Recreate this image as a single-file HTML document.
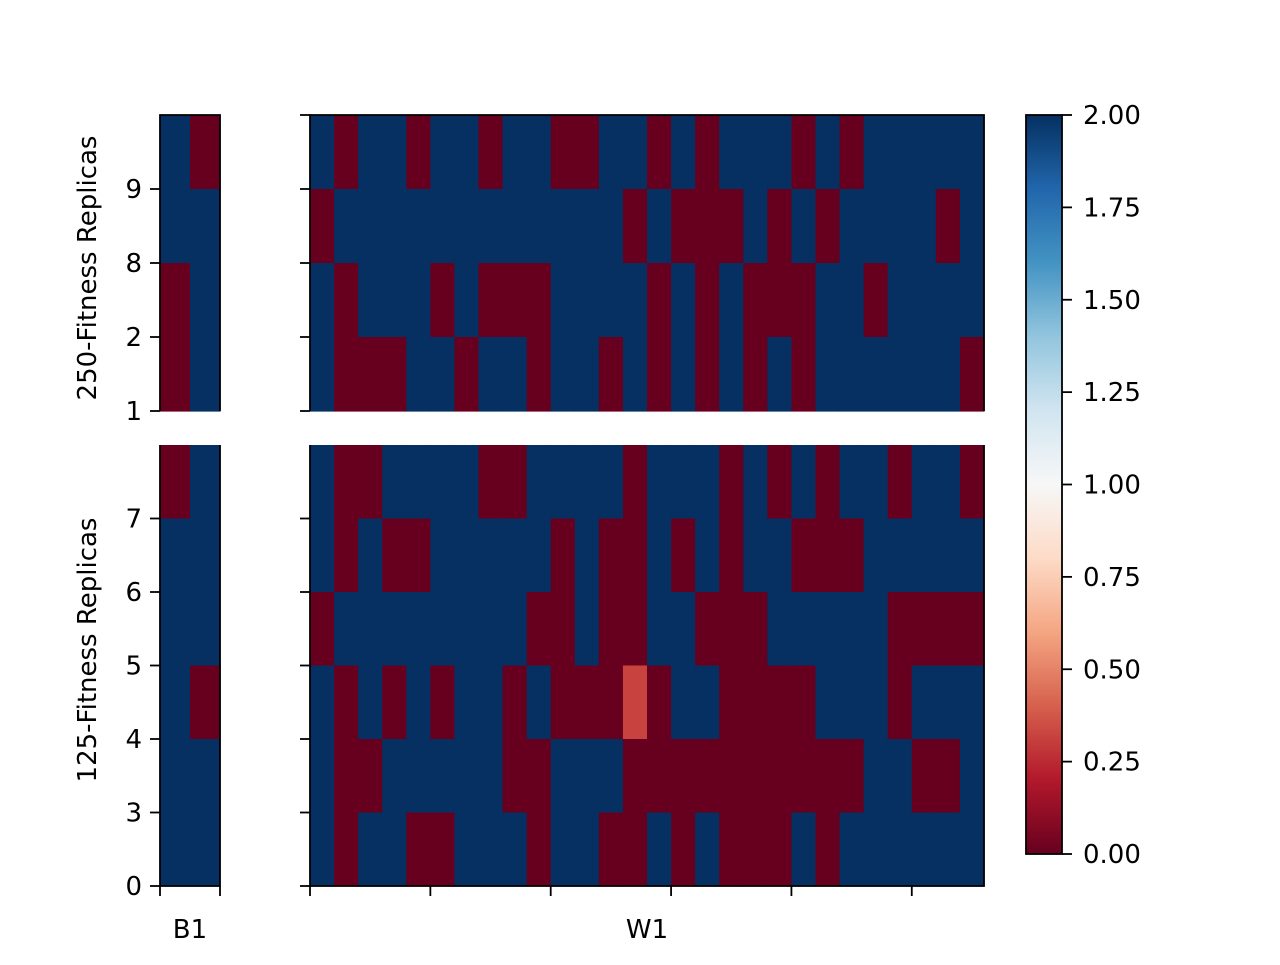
<!DOCTYPE html>
<html><head><meta charset="utf-8"><style>
body{margin:0;background:#fff}
svg text{font-family:"DejaVu Sans","Liberation Sans",sans-serif;font-size:26px;fill:#000}
</style></head><body>
<svg id="chart" width="1280" height="960" xmlns="http://www.w3.org/2000/svg">
<defs>
<linearGradient id="rdbu" x1="0" y1="1" x2="0" y2="0">
<stop offset="0" stop-color="#67001f"/><stop offset="0.1" stop-color="#b2182b"/><stop offset="0.2" stop-color="#d6604d"/><stop offset="0.3" stop-color="#f4a582"/><stop offset="0.4" stop-color="#fddbc7"/><stop offset="0.5" stop-color="#f7f7f7"/><stop offset="0.6" stop-color="#d1e5f0"/><stop offset="0.7" stop-color="#92c5de"/><stop offset="0.8" stop-color="#4393c3"/><stop offset="0.9" stop-color="#2166ac"/><stop offset="1" stop-color="#053061"/>
</linearGradient>
</defs>
</svg>
<script>
// rows listed top-to-bottom
const topW1 = [
[2,0,2,2,0,2,2,0,2,2,0,0,2,2,0,2,0,2,2,2,0,2,0,2,2,2,2,2],
[0,2,2,2,2,2,2,2,2,2,2,2,2,0,2,0,0,0,2,0,2,0,2,2,2,2,0,2],
[2,0,2,2,2,0,2,0,0,0,2,2,2,2,0,2,0,2,0,0,0,2,2,0,2,2,2,2],
[2,0,0,0,2,2,0,2,2,0,2,2,0,2,0,2,0,2,0,2,0,2,2,2,2,2,2,0]
];
const botW1 = [
[2,0,0,2,2,2,2,0,0,2,2,2,2,0,2,2,2,0,2,0,2,0,2,2,0,2,2,0],
[2,0,2,0,0,2,2,2,2,2,0,2,0,0,2,0,2,0,2,2,0,0,0,2,2,2,2,2],
[0,2,2,2,2,2,2,2,2,0,0,2,0,0,2,2,0,0,0,2,2,2,2,2,0,0,0,0],
[2,0,2,0,2,0,2,2,0,2,0,0,0,0.32,0,2,2,0,0,0,0,2,2,2,0,2,2,2],
[2,0,0,2,2,2,2,2,0,0,2,2,2,0,0,0,0,0,0,0,0,0,0,2,2,0,0,2],
[2,0,2,2,0,0,2,2,2,0,2,2,0,0,2,0,2,0,0,0,2,0,2,2,2,2,2,2]
];
const topB1 = [[2,0],[2,2],[0,2],[0,2]];
const botB1 = [[0,2],[2,2],[2,2],[2,0],[2,2],[2,2]];
const topYLabels = ["1","2","8","9"];
const botYLabels = ["0","3","4","5","6","7"];
const cbarTicks = [0,0.25,0.5,0.75,1,1.25,1.5,1.75,2];

const svg = document.getElementById('chart');
const NS = 'http://www.w3.org/2000/svg';
const stops = [[0,'#67001f'],[0.1,'#b2182b'],[0.2,'#d6604d'],[0.3,'#f4a582'],[0.4,'#fddbc7'],[0.5,'#f7f7f7'],[0.6,'#d1e5f0'],[0.7,'#92c5de'],[0.8,'#4393c3'],[0.9,'#2166ac'],[1,'#053061']];
function hex(c){return [1,3,5].map(i=>parseInt(c.substr(i,2),16));}
function cmap(v){
  let t=Math.max(0,Math.min(1,v/2));
  for(let i=0;i<stops.length-1;i++){
    if(t<=stops[i+1][0]){
      const a=hex(stops[i][1]),b=hex(stops[i+1][1]);
      const f=(t-stops[i][0])/(stops[i+1][0]-stops[i][0]);
      return 'rgb('+a.map((x,k)=>Math.round(x+(b[k]-x)*f)).join(',')+')';
    }
  }
  return stops[10][1];
}
function mk(tag,attrs,parent){const e=document.createElementNS(NS,tag);for(const k in attrs)e.setAttribute(k,attrs[k]);(parent||svg).appendChild(e);return e;}

function panel(name,data,x0,x1,y0,y1,isTop){
  const g=mk('g',{});
  
  
  const nr=data.length,nc=data[0].length;
  const cw=(x1-x0)/nc,rh=(y1-y0)/nr;
  data.forEach((row,r)=>row.forEach((v,c)=>{
    const e=mk('rect',{x:x0+c*cw,y:y0+r*rh,width:cw+0.6,height:rh+0.6,fill:cmap(v)},g);
    
    
  }));
  const d = isTop
    ? 'M'+x0+' '+y1+' L'+x0+' '+y0+' L'+x1+' '+y0+' L'+x1+' '+y1
    : 'M'+x0+' '+y0+' L'+x0+' '+y1+' L'+x1+' '+y1+' L'+x1+' '+y0;
  const b=mk('path',{d:d,fill:'none',stroke:'#000','stroke-width':1.8},g);
  
  
}
function ytick(x,y){mk('line',{x1:x-10,y1:y,x2:x,y2:y,stroke:'#000','stroke-width':1.8});}
function xtick(x,y){mk('line',{x1:x,y1:y,x2:x,y2:y+10,stroke:'#000','stroke-width':1.8});}
function text(s,x,y,anchor,name,rot){
  const t=mk('text',{x:x,y:y,'text-anchor':anchor||'start'});
  if(rot)t.setAttribute('transform','rotate(-90 '+x+' '+y+')');
  t.textContent=s;
  
  
  return t;
}

const TY0=115,TY1=411,BY0=445,BY1=886;
panel('top-b1-panel',topB1,160,220,TY0,TY1,true);
panel('top-w1-panel',topW1,310,984,TY0,TY1,true);
panel('bottom-b1-panel',botB1,160,220,BY0,BY1,false);
panel('bottom-w1-panel',botW1,310,984,BY0,BY1,false);

const trh=(TY1-TY0)/topYLabels.length;
topYLabels.forEach((l,i)=>{const y=TY1-i*trh;ytick(160,y);ytick(310,y);text(l,142,y+9,'end','y-tick-label');});
ytick(310,TY0);
const brh=(BY1-BY0)/botYLabels.length;
botYLabels.forEach((l,i)=>{const y=BY1-i*brh;ytick(160,y);ytick(310,y);text(l,142,y+9,'end','y-tick-label');});

xtick(160,BY1);xtick(220,BY1);
const cw=(984-310)/28;
[0,5,10,15,20,25].forEach(c=>xtick(310+c*cw,BY1));
text('B1',190,938,'middle','x-label-b1');
text('W1',647,938,'middle','x-label-w1');
text('250-Fitness Replicas',96,268,'middle','y-axis-title-250',true);
text('125-Fitness Replicas',96,650,'middle','y-axis-title-125',true);

const CX0=1026,CX1=1062,CY0=115,CY1=854;
const cb=mk('rect',{x:CX0,y:CY0,width:CX1-CX0,height:CY1-CY0,fill:'url(#rdbu)',stroke:'#000','stroke-width':1.8});


cbarTicks.forEach(v=>{
  const y=CY1-(v/2)*(CY1-CY0);
  mk('line',{x1:CX1,y1:y,x2:CX1+10,y2:y,stroke:'#000','stroke-width':1.8});
  text(v.toFixed(2),1083,y+9,'start','colorbar-tick-label');
});
</script>
</body></html>
